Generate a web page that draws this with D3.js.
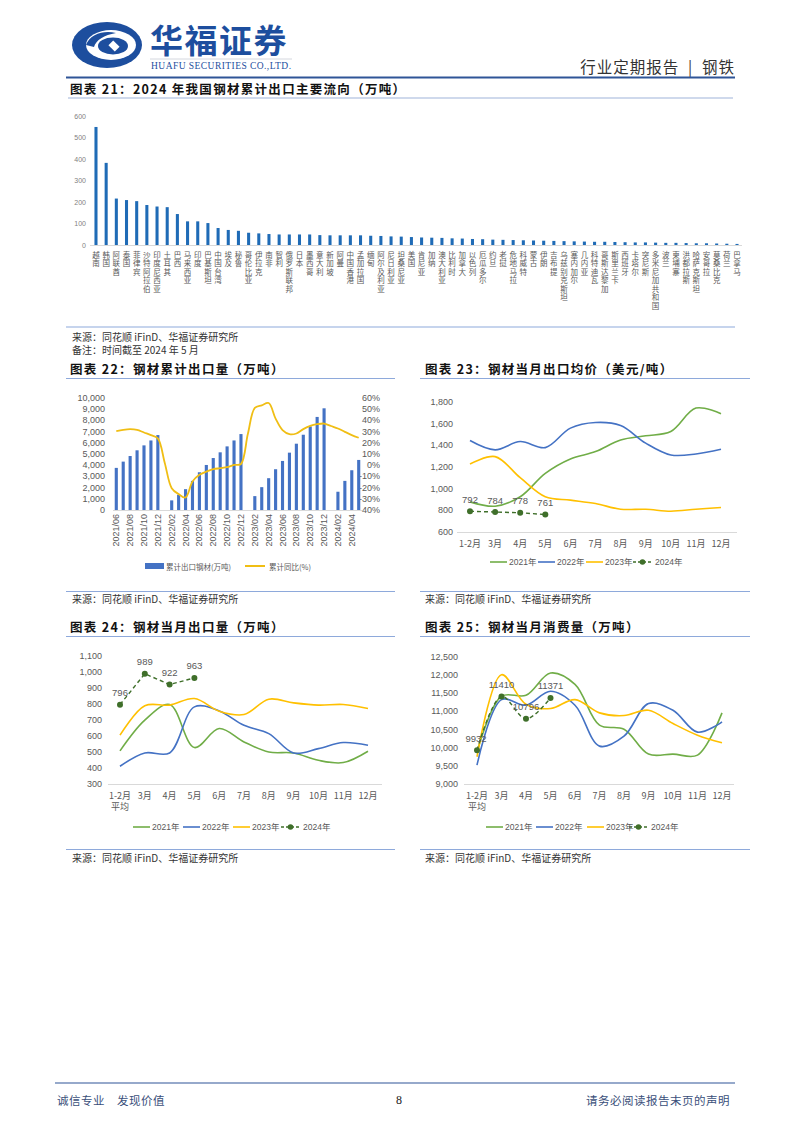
<!DOCTYPE html>
<html><head><meta charset="utf-8">
<script src="https://cdn.jsdelivr.net/npm/d3@7"></script>
<style>body{margin:0;background:#fff;} svg{display:block;}</style>
</head><body><svg id="c" width="802" height="1133"></svg>
<script>
// ---------- DATA ----------
const c21Countries = ["越南","韩国","阿联酋","泰国","菲律宾","沙特阿拉伯","印度尼西亚","土耳其","巴西","马来西亚","印度","巴基斯坦","中国台湾","埃及","秘鲁","哥伦比亚","伊拉克","南非","智利","俄罗斯联邦","日本","墨西哥","意大利","新加坡","阿曼","中国香港","孟加拉国","缅甸","阿尔及利亚","尼日利亚","坦桑尼亚","美国","肯尼亚","加纳","澳大利亚","比利时","加拿大","以色列","厄瓜多尔","约旦","老挝","危地马拉","科威特","蒙古","伊朗","吉布提","乌兹别克斯坦","塞内加尔","几内亚","科特迪瓦","哥斯达黎加","斯里兰卡","西班牙","卡塔尔","突尼斯","多米尼加共和国","波兰","柬埔寨","洪都拉斯","哈萨克斯坦","安哥拉","莫桑比克","荷兰","巴拿马"];
const c21Values = [549,382,216,209,204,186,179,176,144,110,110,102,79,70,66,57,54,51,49,49,49,49,46,45,45,45,45,43,42,40,39,37,35,34,33,31,30,28,27,25,24,23,22,21,20,19,18,17,16,15,15,14,13,12,12,11,10,10,9,8,8,7,6,5];
const c21Ticks = [0,100,200,300,400,500,600];

const c22Months = ["2021/06","2021/07","2021/08","2021/09","2021/10","2021/11","2021/12","2022/01","2022/02","2022/03","2022/04","2022/05","2022/06","2022/07","2022/08","2022/09","2022/10","2022/11","2022/12","2023/01","2023/02","2023/03","2023/04","2023/05","2023/06","2023/07","2023/08","2023/09","2023/10","2023/11","2023/12","2024/01","2024/02","2024/03","2024/04","2024/05"];
const c22Cum = [3760,4320,4820,5330,5770,6210,6690,null,860,1360,1860,2600,3370,4020,4640,5150,5680,6210,6780,null,1240,2040,2840,3640,4380,5120,5920,6720,7460,8310,9080,null,1630,2600,3550,4470];
const c22Yoy = [30.4,31.6,32.2,31.6,29.2,26.9,23.9,2,-20.5,-25.8,-28.8,-14.6,-8.6,-5.7,-3.6,-2.7,-1.8,0.2,1.1,28,51.1,53.5,55.5,41.6,31.3,27.7,28.3,32.2,35.1,36.6,37.2,35,32.8,29.8,26.9,24.5];
const c22LeftTicks = [0,1000,2000,3000,4000,5000,6000,7000,8000,9000,10000];
const c22RightTicks = [-40,-30,-20,-10,0,10,20,30,40,50,60];

const monthCats = ["1-2月","3月","4月","5月","6月","7月","8月","9月","10月","11月","12月"];
const yearNames = ["2021年","2022年","2023年","2024年"];

const c23_2021 = [878,838,925,1141,1274,1342,1450,1488,1528,1744,1692];
const c23_2022 = [1444,1358,1435,1379,1559,1611,1583,1420,1311,1320,1364];
const c23_2023 = [1228,1296,1101,925,894,863,810,810,792,810,826];
const c23_2024 = [792,784,778,761];
const c23Ticks = [600,800,1000,1200,1400,1600,1800];

const c24_2021 = [507,699,797,528,647,563,500,494,448,434,505];
const c24_2022 = [411,494,494,782,757,667,615,494,521,559,542];
const c24_2023 = [605,789,793,834,755,734,830,807,793,797,772];
const c24_2024 = [796,989,922,963];
const c24Ticks = [300,400,500,600,700,800,900,1000,1100];

const c25_2021 = [9880,11418,11445,12059,11747,10621,10511,9824,9824,9797,10960];
const c25_2022 = [9522,11326,11170,11555,11170,10044,10318,11216,11033,10429,10712];
const c25_2023 = [9751,12012,11198,11079,11326,10960,10886,11033,10667,10346,10136];
const c25_2024 = [9932,11410,10796,11371];
const c25Ticks = [9000,9500,10000,10500,11000,11500,12000,12500];

// ---------- STYLE ----------
const CJK = "'Noto Sans CJK SC','Noto Sans',sans-serif";
const NUM = "'Liberation Sans','Noto Sans CJK SC',sans-serif";
const GRAY = "#595959";
const AXIS = "#d9d9d9";
const C_GREEN = "#70ad47", C_BLUE = "#4472c4", C_YEL = "#ffc000", C_DG = "#3f6f2a";
const svg = d3.select("#c");
svg.append("rect").attr("width",802).attr("height",1133).attr("fill","#fff");

function hline(x1,x2,y,color,w){svg.append("line").attr("x1",x1).attr("x2",x2).attr("y1",y).attr("y2",y).attr("stroke",color).attr("stroke-width",w);}
function txt(x,y,s,opt){
  opt=opt||{};
  return svg.append("text").attr("x",x).attr("y",y).text(s)
    .attr("font-family",opt.ff||CJK).attr("font-size",opt.fs||10)
    .attr("font-weight",opt.fw||"normal").attr("fill",opt.fill||"#222")
    .attr("text-anchor",opt.anchor||"start").attr("dominant-baseline",opt.db||"central")
    .attr("letter-spacing",opt.ls||0);
}

// ---------- HEADER ----------
const logo = svg.append("g");
logo.append("ellipse").attr("cx",107).attr("cy",45).attr("rx",35).attr("ry",23).attr("fill","#1d4e9e");
logo.append("ellipse").attr("cx",111).attr("cy",45).attr("rx",25).attr("ry",15).attr("fill","#fff");
logo.append("path").attr("d","M86,45 C90,34 104,30 116,33 C104,35 96,40 94,47 Z").attr("fill","#1d4e9e");
logo.append("ellipse").attr("cx",113).attr("cy",46).attr("rx",15).attr("ry",8.5).attr("fill","#1d4e9e");
logo.append("rect").attr("x",-4.5).attr("y",-4.5).attr("width",9).attr("height",9).attr("fill","#fff")
  .attr("transform","translate(114,46) rotate(45) scale(1,0.75)");
txt(150,39,"华福证券",{fs:33,fw:"bold",fill:"#1d4e9e",ls:1.5});
hline(150,292,59,"#c9cdd6",0.8);
txt(151,66,"HUAFU SECURITIES CO.,LTD.",{ff:"'Liberation Serif',serif",fs:9.5,fill:"#1d4e9e"}).attr("textLength",140);
txt(735,66,"行业定期报告\u2002|\u2002钢铁",{fs:15.5,anchor:"end",fill:"#333",ls:1});
hline(66,735,77.5,"#2f5597",2);

// ---------- CHART 21 ----------
const TS = {fs:12.5,fw:"bold",fill:"#111",ls:1.3};
txt(70,88,"图表 21：2024 年我国钢材累计出口主要流向（万吨）",TS);
hline(68,733,98,"#9fb3d9",1);
{
  const x = d3.scaleBand().domain(c21Countries).range([90.9,742.1]).paddingInner(0.7).paddingOuter(0.35);
  const y = d3.scaleLinear().domain([0,600]).range([245,116]);
  const g = svg.append("g");
  g.selectAll("text.yt").data(c21Ticks).join("text")
    .attr("x",86).attr("y",d=>y(d)).text(d=>d)
    .attr("font-family",NUM).attr("font-size",7).attr("fill","#7f7f7f")
    .attr("text-anchor","end").attr("dominant-baseline","central");
  g.append("line").attr("x1",90).attr("x2",742).attr("y1",245.5).attr("y2",245.5).attr("stroke",AXIS);
  g.selectAll("rect").data(c21Values).join("rect")
    .attr("x",(d,i)=>x(c21Countries[i])).attr("width",x.bandwidth())
    .attr("y",d=>y(d)).attr("height",d=>245-y(d)).attr("fill","#1f6bb6");
  g.selectAll("text.cn").data(c21Countries).join("text")
    .attr("x",d=>x(d)+x.bandwidth()/2).attr("y",251).text(d=>d)
    .attr("font-family",CJK).attr("font-size",7.5).attr("fill",GRAY)
    .attr("letter-spacing",1)
    .style("writing-mode","vertical-rl").style("text-orientation","upright");
}
hline(66,735,327,"#8ea9db",1.2);
txt(72,336,"来源：同花顺 iFinD、华福证券研究所",{fs:10,fill:"#333"});
txt(72,349,"备注：时间截至 2024 年 5 月",{fs:10,fill:"#333"});

// ---------- section titles ----------
txt(70,368,"图表 22：钢材累计出口量（万吨）",TS);
txt(425,368,"图表 23：钢材当月出口均价（美元/吨）",TS);
hline(66,395,378.5,"#8ea9db",1);
hline(420,750,378.5,"#8ea9db",1);
hline(66,395,591.5,"#8ea9db",1);
hline(420,750,591.5,"#8ea9db",1);
txt(72,598,"来源：同花顺 iFinD、华福证券研究所",{fs:10,fill:"#333"});
txt(425,598,"来源：同花顺 iFinD、华福证券研究所",{fs:10,fill:"#333"});

txt(70,626,"图表 24：钢材当月出口量（万吨）",TS);
txt(425,626,"图表 25：钢材当月消费量（万吨）",TS);
hline(66,395,636.5,"#8ea9db",1);
hline(420,750,636.5,"#8ea9db",1);
hline(66,395,849.5,"#8ea9db",1);
hline(420,750,849.5,"#8ea9db",1);
txt(72,857,"来源：同花顺 iFinD、华福证券研究所",{fs:10,fill:"#333"});
txt(425,857,"来源：同花顺 iFinD、华福证券研究所",{fs:10,fill:"#333"});

// ---------- CHART 22 ----------
{
  const x = d3.scaleBand().domain(c22Months).range([113,362]).paddingInner(0.55).paddingOuter(0.25);
  const yl = d3.scaleLinear().domain([0,10000]).range([510,398]);
  const yr = d3.scaleLinear().domain([-40,60]).range([510,398]);
  const g = svg.append("g");
  const fmt = d3.format(",");
  g.selectAll("text.yl").data(c22LeftTicks).join("text")
    .attr("x",105).attr("y",d=>yl(d)).text(d=>fmt(d))
    .attr("font-family",NUM).attr("font-size",9).attr("fill",GRAY)
    .attr("text-anchor","end").attr("dominant-baseline","central");
  g.selectAll("text.yr").data(c22RightTicks).join("text")
    .attr("x",380).attr("y",d=>yr(d)).text(d=>d+"%")
    .attr("font-family",NUM).attr("font-size",9).attr("fill",GRAY)
    .attr("text-anchor","end").attr("dominant-baseline","central");
  g.selectAll("rect").data(c22Cum.map((v,i)=>({v,m:c22Months[i]})).filter(d=>d.v!=null)).join("rect")
    .attr("x",d=>x(d.m)).attr("width",x.bandwidth())
    .attr("y",d=>yl(d.v)).attr("height",d=>510-yl(d.v)).attr("fill",C_BLUE);
  g.append("line").attr("x1",113).attr("x2",362).attr("y1",510.5).attr("y2",510.5).attr("stroke",AXIS);
  const line = d3.line().x((d,i)=>x(c22Months[i])+x.bandwidth()/2).y(d=>yr(d)).curve(d3.curveCatmullRom.alpha(0.5));
  g.append("path").attr("d",line(c22Yoy)).attr("fill","none").attr("stroke","#f0be14").attr("stroke-width",1.8);
  c22Months.forEach((m,i)=>{
    if(i%2!==0) return;
    const cx = x(m)+x.bandwidth()/2;
    g.append("text").text(m).attr("transform",`translate(${cx+3},514) rotate(-90)`)
      .attr("font-family",NUM).attr("font-size",9).attr("fill",GRAY).attr("text-anchor","end");
  });
  g.append("rect").attr("x",145).attr("y",563).attr("width",19).attr("height",6).attr("fill",C_BLUE);
  txt(166,566,"累计出口钢材(万吨)",{fs:7.5,fill:GRAY});
  g.append("line").attr("x1",245).attr("x2",265).attr("y1",566).attr("y2",566).attr("stroke","#f0be14").attr("stroke-width",2);
  txt(269,566,"累计同比(%)",{fs:7.5,fill:GRAY});
}

// ---------- line charts ----------
function lineChart(cfg){
  const g = svg.append("g");
  const x = d3.scalePoint().domain(monthCats).range(cfg.xr);
  const y = d3.scaleLinear().domain(cfg.yd).range(cfg.yr);
  const fmt = d3.format(",");
  g.selectAll("text.yt").data(cfg.ticks).join("text")
    .attr("x",cfg.ylx).attr("y",d=>y(d)).text(d=>fmt(d))
    .attr("font-family",NUM).attr("font-size",9).attr("fill",GRAY)
    .attr("text-anchor","end").attr("dominant-baseline","central");
  g.append("line").attr("x1",cfg.ax[0]).attr("x2",cfg.ax[1]).attr("y1",cfg.yr[0]+0.5).attr("y2",cfg.yr[0]+0.5).attr("stroke",AXIS);
  monthCats.forEach(m=>{
    g.append("text").attr("x",x(m)).attr("y",cfg.yr[0]+11).text(m)
      .attr("font-family",CJK).attr("font-size",9).attr("fill",GRAY)
      .attr("text-anchor","middle").attr("dominant-baseline","central");
  });
  if(cfg.avg){
    g.append("text").attr("x",x(monthCats[0])).attr("y",cfg.yr[0]+22).text("平均")
      .attr("font-family",CJK).attr("font-size",9).attr("fill",GRAY)
      .attr("text-anchor","middle").attr("dominant-baseline","central");
  }
  const line = d3.line().x((d,i)=>x(monthCats[i])).y(d=>y(d)).curve(d3.curveCatmullRom.alpha(0.5));
  [[cfg.s[0],C_GREEN],[cfg.s[1],C_BLUE],[cfg.s[2],C_YEL]].forEach(([s,c])=>{
    g.append("path").attr("d",line(s)).attr("fill","none").attr("stroke",c).attr("stroke-width",1.6);
  });
  const l4 = d3.line().x((d,i)=>x(monthCats[i])).y(d=>y(d)).curve(cfg.straight?d3.curveLinear:d3.curveCatmullRom.alpha(0.5));
  g.append("path").attr("d",l4(cfg.s[3])).attr("fill","none").attr("stroke",C_DG).attr("stroke-width",1.4).attr("stroke-dasharray","4,3");
  g.selectAll("circle").data(cfg.s[3]).join("circle")
    .attr("cx",(d,i)=>x(monthCats[i])).attr("cy",d=>y(d)).attr("r",3).attr("fill",C_DG);
  g.selectAll("text.lab").data(cfg.s[3]).join("text")
    .attr("x",(d,i)=>x(monthCats[i])+(cfg.labdx?cfg.labdx[i]:0)).attr("y",d=>y(d)-12).text(d=>d)
    .attr("font-family",NUM).attr("font-size",9.5).attr("fill",GRAY)
    .attr("text-anchor","middle").attr("dominant-baseline","central");
  // legend
  const ly = cfg.ly, lx = cfg.lx;
  const cols=[C_GREEN,C_BLUE,C_YEL];
  for(let k=0;k<3;k++){
    g.append("line").attr("x1",lx[k]).attr("x2",lx[k]+17).attr("y1",ly).attr("y2",ly).attr("stroke",cols[k]).attr("stroke-width",1.6);
    txt(lx[k]+19,ly,yearNames[k],{ff:NUM,fs:8.5,fill:GRAY});
  }
  g.append("line").attr("x1",lx[3]).attr("x2",lx[3]+19).attr("y1",ly).attr("y2",ly).attr("stroke",C_DG).attr("stroke-width",1.4).attr("stroke-dasharray","3,2");
  g.append("circle").attr("cx",lx[3]+9.5).attr("cy",ly).attr("r",2.8).attr("fill",C_DG);
  txt(lx[3]+22,ly,yearNames[3],{ff:NUM,fs:8.5,fill:GRAY});
}
lineChart({xr:[470,721],yd:[600,1800],yr:[532,402],ticks:c23Ticks,ylx:453,ax:[457,737],
  s:[c23_2021,c23_2022,c23_2023,c23_2024],ly:562,lx:[490,538,586,633],straight:true});
lineChart({xr:[120,368],yd:[300,1100],yr:[784,656],ticks:c24Ticks,ylx:102,ax:[108,382],avg:true,
  s:[c24_2021,c24_2022,c24_2023,c24_2024],ly:827,lx:[133,183,233,281],straight:true});
lineChart({xr:[477,722],yd:[9000,12500],yr:[784,657],ticks:c25Ticks,ylx:458,ax:[464,734],avg:true,
  s:[c25_2021,c25_2022,c25_2023,c25_2024],ly:827,lx:[486,536,587,629],labdx:[-1,0,0,0]});

// ---------- FOOTER ----------
hline(55,735,1083,"#2f5597",1.2);
txt(57,1100,"诚信专业\u3000发现价值",{fs:11.5,fill:"#3a4f7a",ls:0.5});
txt(396,1100,"8",{ff:"'Liberation Serif',serif",fs:12,fill:"#222"});
txt(730,1100,"请务必阅读报告末页的声明",{fs:11.5,fill:"#3a4f7a",anchor:"end",ls:0.5});
</script></body></html>
